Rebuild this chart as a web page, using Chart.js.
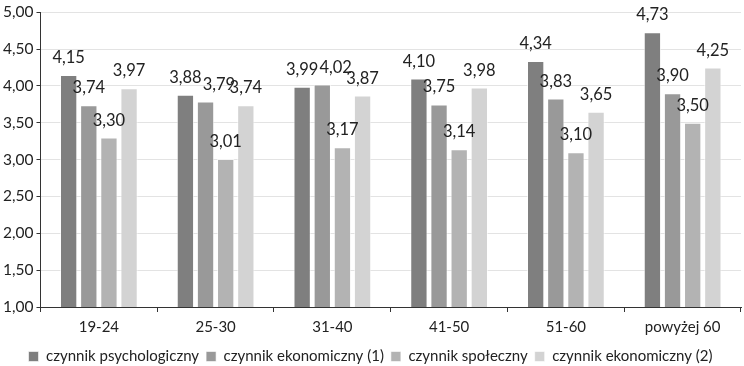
<!DOCTYPE html>
<html>
<head>
<meta charset="utf-8">
<script src="https://cdn.jsdelivr.net/npm/chart.js@4/dist/chart.umd.min.js"></script>
<style>
  html, body { margin: 0; padding: 0; background: #fff; }
  #wrap { width: 744px; height: 366px; }
</style>
</head>
<body>
<div id="wrap"><canvas id="chart"></canvas></div>
<script>
const categories = ['19-24', '25-30', '31-40', '41-50', '51-60', 'powyżej 60'];
const seriesNames = ['czynnik psychologiczny', 'czynnik ekonomiczny (1)', 'czynnik społeczny', 'czynnik ekonomiczny (2)'];
const psychologiczny = [4.15, 3.88, 3.99, 4.10, 4.34, 4.73];
const ekonomiczny1 = [3.74, 3.79, 4.02, 3.75, 3.83, 3.90];
const spoleczny = [3.30, 3.01, 3.17, 3.14, 3.10, 3.50];
const ekonomiczny2 = [3.97, 3.74, 3.87, 3.98, 3.65, 4.25];
const colors = ['#7f7f7f', '#999999', '#b3b3b3', '#d3d3d3'];

const fontFam = 'Lato, "Open Sans", sans-serif';
const fmt = v => v.toFixed(2).replace('.', ',');

// draws the value above each bar, nudging right when it would collide with the previous one
const valueLabels = {
  id: 'valueLabels',
  afterDatasetsDraw(chart) {
    const ctx = chart.ctx;
    ctx.save();
    ctx.font = '16.5px ' + fontFam;
    ctx.fillStyle = '#222';
    ctx.textAlign = 'center';
    ctx.textBaseline = 'bottom';
    const n = chart.data.labels.length;
    for (let j = 0; j < n; j++) {
      let prev = null;
      chart.data.datasets.forEach((ds, i) => {
        const bar = chart.getDatasetMeta(i).data[j];
        const txt = fmt(ds.data[j]);
        const w = ctx.measureText(txt).width;
        let x = bar.x;
        const y = bar.y - 9;
        if (prev && Math.abs(prev.y - y) < 14 && x - w / 2 < prev.right + 1) {
          x = prev.right + 1 + w / 2;
        }
        ctx.fillText(txt, x, y);
        prev = { right: x + w / 2, y: y };
      });
    }
    ctx.restore();
  }
};

const data = [psychologiczny, ekonomiczny1, spoleczny, ekonomiczny2];

new Chart(document.getElementById('chart'), {
  type: 'bar',
  data: {
    labels: categories,
    datasets: data.map((d, i) => ({
      label: seriesNames[i],
      data: d,
      backgroundColor: colors[i],
      borderColor: 'rgba(255,255,255,0.6)',
      borderWidth: 1,
      barPercentage: 0.86,
      categoryPercentage: 0.69
    }))
  },
  options: {
    responsive: true,
    maintainAspectRatio: false,
    animation: false,
    layout: { padding: { top: 2, right: 3, left: 0, bottom: -8 } },
    plugins: {
      legend: {
        position: 'bottom',
        labels: {
          boxWidth: 10, boxHeight: 10, padding: 7,
          color: '#222',
          font: { size: 15, family: fontFam }
        }
      },
      tooltip: { enabled: false }
    },
    scales: {
      y: {
        min: 1, max: 5,
        ticks: {
          stepSize: 0.5,
          color: '#222',
          padding: 3,
          font: { size: 15.5, family: fontFam },
          callback: v => fmt(v)
        },
        grid: { color: '#e3e3e3', tickColor: '#333', tickLength: 4 },
        border: { color: '#333' }
      },
      x: {
        ticks: { color: '#222', padding: 6, font: { size: 15, family: fontFam } },
        grid: { offset: true, drawOnChartArea: false, tickColor: '#333', tickLength: 5 },
        border: { color: '#333' }
      }
    }
  },
  plugins: [valueLabels]
});
</script>
</body>
</html>
